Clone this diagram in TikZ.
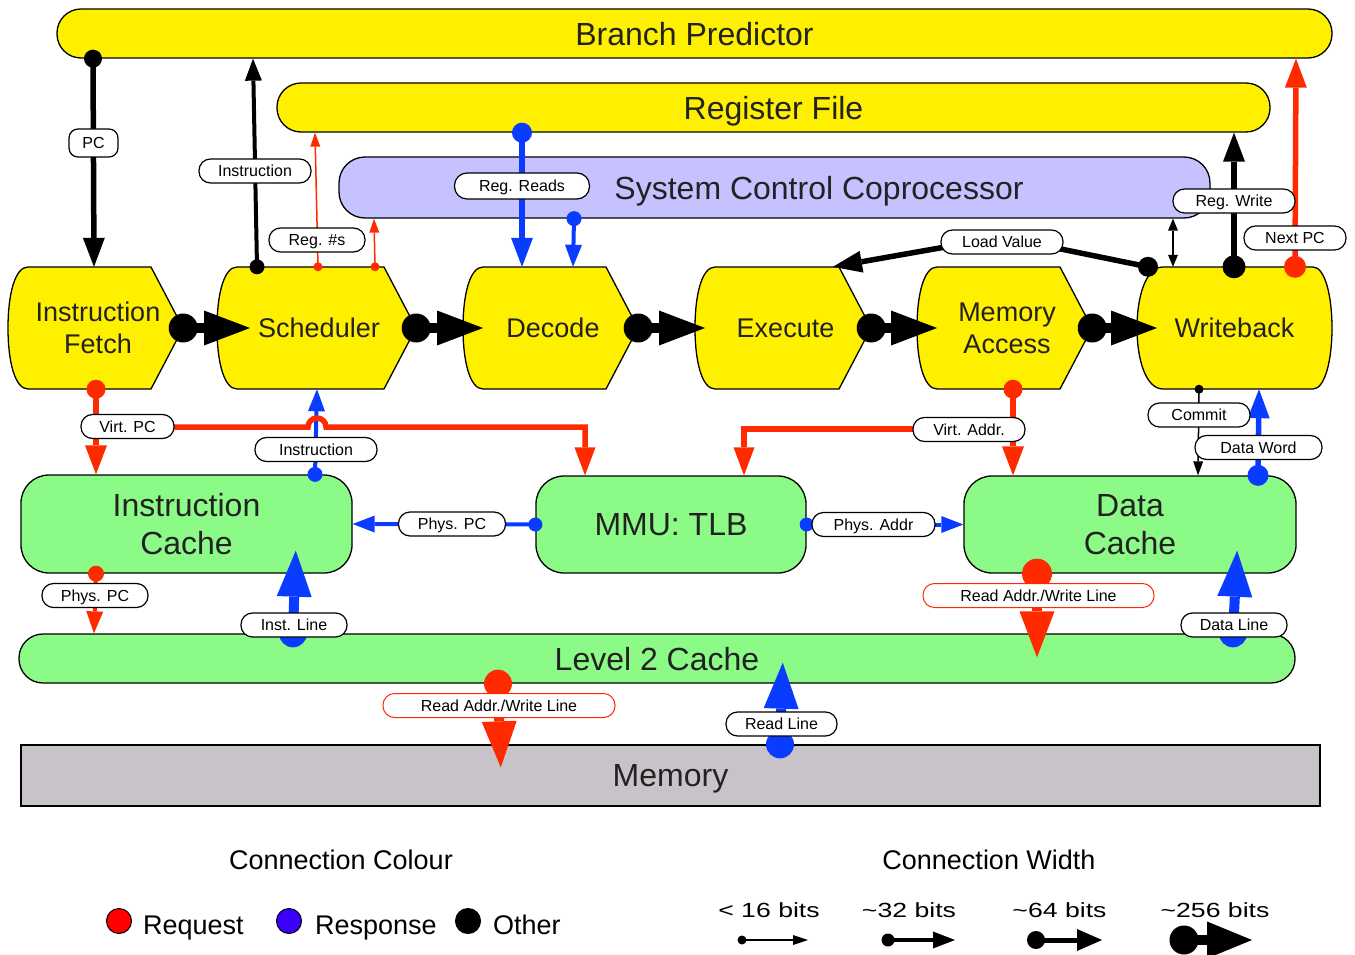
\documentclass[tikz,border=0pt]{standalone}
\usepackage{fontspec}
\setmainfont{Liberation Sans}
\usepackage{graphicx}
\usetikzlibrary{arrows.meta}
\definecolor{ylw}{RGB}{255,240,0}
\definecolor{grn}{RGB}{140,250,135}
\definecolor{lav}{RGB}{197,194,255}
\definecolor{memg}{RGB}{200,195,200}
\definecolor{req}{RGB}{255,42,0}
\definecolor{resp}{RGB}{10,60,255}
\definecolor{txt}{RGB}{34,34,34}
\definecolor{legred}{RGB}{255,0,0}
\definecolor{legblue}{RGB}{60,0,255}
\newcommand\ystage[4]{%
  \filldraw[stageshape] ({#2+20},267) -- ({#3-32},267) -- (#3,328) -- ({#3-32},389) -- ({#2+20},389)
    .. controls ({#2+7},389) and (#2,362) .. (#2,328)
    .. controls (#2,294) and ({#2+7},267) .. cycle;
  \node[stgtxt, minimum width={(#3-#2)*1pt}, minimum height=122pt] (#1) at ({(#2+#3)/2},328) {};
  \node[stgtxt] (#1t) at ({(#2+#3)/2+2.5},328) {#4};
}
\begin{document}
\begin{tikzpicture}[x=1pt,y=-1pt,
  box/.style={draw=black, line width=1.3pt, inner sep=0pt, text=txt, font=\fontsize{32}{38}\selectfont, align=center},
  one/.style={text depth=0pt},
  stageshape/.style={draw=black, line width=1.3pt, fill=ylw},
  stgtxt/.style={inner sep=0pt, text=txt, font=\fontsize{27}{32}\selectfont, align=center},
  lbl/.style={draw=black, line width=1.2pt, fill=white, rounded corners=11.5pt, inner sep=0pt, minimum height=24pt, text depth=0pt, font=\fontsize{16}{18}\selectfont},
  lblr/.style={lbl, draw=req, line width=1pt},
  c16/.style={line width=1.5pt, -{Triangle[length=14pt,width=10pt,line width=0pt]}},
  c32/.style={line width=4pt, -{Triangle[length=22pt,width=17pt,line width=0pt]}},
  c64/.style={line width=5.5pt, -{Triangle[length=29pt,width=22pt,line width=0pt]}},
  c256/.style={line width=10pt, -{Triangle[length=46pt,width=35pt,line width=0pt]}},
  thinln/.style={line width=5.5pt, -{Triangle[length=28pt,width=21pt,line width=0pt]}},
  legtxt/.style={inner sep=0pt, font=\fontsize{27}{32}\selectfont},
  wtxt/.style={inner sep=0pt, anchor=base},
  legdot/.style={circle, draw=black, line width=1pt, minimum size=25pt, inner sep=0pt},
]
\useasboundingbox (0,0) rectangle (1355,955);
\fill[white] (0,0) rectangle (1355,955);

% ---------- blocks ----------
\node[box, one, fill=ylw, rounded corners=24pt, minimum width=1275pt, minimum height=49pt] (BP) at (694.5,33.5) {Branch Predictor};
\node[box, one, fill=ylw, rounded corners=24pt, minimum width=993pt, minimum height=49pt] (RF) at (773.5,107.5) {Register File};
\node[box, fill=lav, rounded corners=26pt, minimum width=871pt, minimum height=61pt] (SCC) at (774.5,187.5) {};
\node[inner sep=0pt, one, text=txt, font=\fontsize{32}{38}\selectfont] (SCCt) at (819,187.5) {System Control Coprocessor};

\ystage{IF}{8}{183}{Instruction\\Fetch}
\ystage{SCH}{217}{416}{Scheduler}
\ystage{DEC}{463}{638}{Decode}
\ystage{EXE}{695}{871}{Execute}
\ystage{MA}{917}{1092}{Memory\\Access}
\filldraw[stageshape] (1163,267) -- (1313,267) .. controls (1325,267) and (1332,296) .. (1332,328)
  .. controls (1332,360) and (1325,389) .. (1313,389) -- (1163,389)
  .. controls (1146,389) and (1137,360) .. (1137,328) .. controls (1137,296) and (1146,267) .. cycle;
\node[stgtxt, minimum width=195pt, minimum height=122pt] (WB) at (1234.5,328) {Writeback};

\node[box, fill=grn, rounded corners=28pt, minimum width=331pt, minimum height=98pt] (IC) at (186.5,524) {Instruction\\Cache};
\node[box, one, fill=grn, rounded corners=28pt, minimum width=270pt, minimum height=97pt] (MMU) at (671,524.5) {MMU: TLB};
\node[box, fill=grn, rounded corners=28pt, minimum width=332pt, minimum height=97pt] (DC) at (1130,524.5) {Data\\Cache};
\node[box, one, fill=grn, rounded corners=24pt, minimum width=1276pt, minimum height=49pt] (L2) at (657,658.5) {Level 2 Cache};
\node[box, one, fill=memg, minimum width=1299pt, minimum height=61pt] (MEM) at (670.5,775.5) {Memory};

% ---------- pipeline chain ----------
\foreach \a/\b/\tip in {IF/SCH/250, SCH/DEC/483, DEC/EXE/705, EXE/MA/937, MA/WB/1157} {
  \draw[c256] (\a.east) -- (\tip,0 |- \b.west);
  \fill (\a.east) circle (14.5);
}

% ---------- top connectors ----------
\draw[c64] (93,0 |- BP.south) -- (94,0 |- IF.north);
\fill (93,0 |- BP.south) circle (9);
\draw[c32] (257,0 |- SCH.north) -- (253,0 |- BP.south);
\fill (257,0 |- SCH.north) circle (7.5);
\draw[c16, req] (318,0 |- SCH.north) -- (315,0 |- RF.south);
\fill[req] (318,0 |- SCH.north) circle (4.5);
\draw[c16, req] (375,0 |- SCH.north) -- (374,0 |- SCC.south);
\fill[req] (375,0 |- SCH.north) circle (4.5);
\draw[c64, resp] (522,0 |- RF.south) -- (522,0 |- DEC.north);
\fill[resp] (522,0 |- RF.south) circle (10);
\draw[c32, resp] (574,0 |- SCC.south) -- (573,0 |- DEC.north);
\fill[resp] (574,0 |- SCC.south) circle (7.5);
\coordinate (lvb) at (1002,237);
\draw[c64] (1148,0 |- WB.north) -- (lvb) -- (833,0 |- EXE.north);
\fill (1148,0 |- WB.north) circle (10);
\draw[line width=2pt, {Triangle[length=12pt,width=10pt,line width=0pt]}-{Triangle[length=12pt,width=10pt,line width=0pt]}] (1173,0 |- SCC.south) -- (1173,0 |- WB.north);
\draw[c64] (1234,0 |- WB.north) -- (1234,0 |- RF.south);
\fill (1234,0 |- WB.north) circle (11.5);
\draw[c64, req] (1295,0 |- WB.north) -- (1296,0 |- BP.south);
\fill[req] (1295,0 |- WB.north) circle (11);

% ---------- middle connectors ----------
\draw[c32, resp] (315,0 |- IC.north) -- (317,0 |- SCH.south);
\fill[resp] (315,0 |- IC.north) circle (7.5);
\coordinate (vpc) at (96,427);
\draw[thinln, req] (vpc) -- (308,427) arc[start angle=180, end angle=360, radius=9] -- (585,427) -- (585,0 |- MMU.north);
\draw[c64, req] (96,0 |- IF.south) -- (96,0 |- IC.north);
\fill[req] (96,0 |- IF.south) circle (9.5);
\coordinate (vad) at (1013,429);
\draw[thinln, req] (vad) -- (744,429) -- (744,0 |- MMU.north);
\draw[c64, req] (1013,0 |- MA.south) -- (1013,0 |- DC.north);
\fill[req] (1013,0 |- MA.south) circle (9.5);
\draw[c16] (1199,0 |- WB.south) -- (1198,0 |- DC.north);
\fill (1199,0 |- WB.south) circle (4.5);
\draw[c64, resp] (1258,0 |- DC.north) -- (1259,0 |- WB.south);
\fill[resp] (1258,0 |- DC.north) circle (10.5);
\draw[c32, resp] (MMU.west) -- (IC.east);
\fill[resp] (MMU.west) circle (7);
\draw[c32, resp] (MMU.east) -- (DC.west);
\fill[resp] (MMU.east) circle (7);

% ---------- lower connectors ----------
\draw[c32, req] (96,0 |- IC.south) -- (94,0 |- L2.north);
\fill[req] (96,0 |- IC.south) circle (8);
\draw[c256, resp, shorten >=-23pt] (293,0 |- L2.north) -- (295,0 |- IC.south);
\fill[resp] (293,0 |- L2.north) circle (14);
\draw[c256, req, shorten >=-24pt] (1037,0 |- DC.south) -- (1037,0 |- L2.north);
\fill[req] (1037,0 |- DC.south) circle (15);
\draw[c256, resp, shorten >=-23pt] (1233,0 |- L2.north) -- (1236,0 |- DC.south);
\fill[resp] (1233,0 |- L2.north) circle (14);
\draw[c256, req, shorten >=-23pt] (498,0 |- L2.south) -- (500,0 |- MEM.north);
\fill[req] (498,0 |- L2.south) circle (14);
\draw[c256, resp, shorten >=-21pt] (780,0 |- MEM.north) -- (782,0 |- L2.south);
\fill[resp] (780,0 |- MEM.north) circle (14);

% ---------- labels ----------
\node[lbl, rounded corners=9pt, minimum width=49pt, minimum height=28pt] (lPC) at (93.5,143) {PC};
\node[lbl, minimum width=112pt] (lInsA) at (255,171) {Instruction};
\node[lbl, minimum width=96pt] (lRegs) at (317,240) {Reg. \#s};
\node[lbl, minimum width=135pt, minimum height=26pt, rounded corners=12.5pt] (lRR) at (522,186) {Reg. Reads};
\node[lbl, minimum width=122pt] (lLV) at (1002,242) {Load Value};
\node[lbl, minimum width=122pt] (lRW) at (1234,201) {Reg. Write};
\node[lbl, minimum width=102pt] (lNPC) at (1295,238) {Next PC};
\node[lbl, minimum width=93pt] (lVPC) at (127.5,426.5) {Virt. PC};
\node[lbl, minimum width=122pt] (lInsB) at (316,449.5) {Instruction};
\node[lbl, minimum width=112pt] (lVA) at (969,429.5) {Virt. Addr.};
\node[lbl, minimum width=102pt] (lCom) at (1199,415) {Commit};
\node[lbl, minimum width=127pt] (lDW) at (1258.5,447.5) {Data Word};
\node[lbl, minimum width=107pt] (lPPCa) at (452,524) {Phys. PC};
\node[lbl, minimum width=123pt] (lPA) at (873.5,524.5) {Phys. Addr};
\node[lbl, minimum width=106pt] (lPPCb) at (95,595.5) {Phys. PC};
\node[lbl, minimum width=106pt] (lIL) at (294,625) {Inst. Line};
\node[lblr, minimum width=231pt] (lRAa) at (1038.5,595.5) {Read Addr./Write Line};
\node[lbl, minimum width=106pt] (lDL) at (1234,625) {Data Line};
\node[lblr, minimum width=232pt] (lRAb) at (499,705.5) {Read Addr./Write Line};
\node[lbl, minimum width=111pt] (lRL) at (781.5,724) {Read Line};

% ---------- legend ----------
\node[legtxt] (lcc) at (341,860) {Connection Colour};
\node[legtxt] (lcw) at (989,860) {Connection Width};
\node[legdot, fill=legred] (dreq) at (119,921) {};
\node[legtxt, anchor=base west] (treq) at (143,934) {Request};
\node[legdot, fill=legblue] (dresp) at (289,921) {};
\node[legtxt, anchor=base west] (tresp) at (315,934) {Response};
\node[legdot, fill=black] (doth) at (468,921) {};
\node[legtxt, anchor=base west] (toth) at (493,934) {Other};

\node[wtxt] (w16) at (769,917) {\scalebox{1.3}[1]{\fontsize{20.5}{24}\selectfont < 16 bits}};
\node[wtxt] (w32) at (909,917) {\scalebox{1.3}[1]{\fontsize{20.5}{24}\selectfont \textasciitilde32 bits}};
\node[wtxt] (w64) at (1059.5,917) {\scalebox{1.3}[1]{\fontsize{20.5}{24}\selectfont \textasciitilde64 bits}};
\node[wtxt] (w256) at (1215,917) {\scalebox{1.3}[1]{\fontsize{20.5}{24}\selectfont \textasciitilde256 bits}};

\coordinate (a16) at (742,940);  \coordinate (b16) at (808,940);
\coordinate (a32) at (888,940);  \coordinate (b32) at (955,940);
\coordinate (a64) at (1036,940); \coordinate (b64) at (1102,940);
\coordinate (a256) at (1184,940); \coordinate (b256) at (1252,940);
\draw[line width=1.5pt, -{Triangle[length=15pt,width=10pt,line width=0pt]}] (a16) -- (b16);
\fill (a16) circle (4.5);
\draw[line width=4pt, -{Triangle[length=22pt,width=17pt,line width=0pt]}] (a32) -- (b32);
\fill (a32) circle (6.5);
\draw[line width=5pt, -{Triangle[length=25pt,width=22pt,line width=0pt]}] (a64) -- (b64);
\fill (a64) circle (9);
\draw[line width=10pt, -{Triangle[length=45pt,width=37pt,line width=0pt]}] (a256) -- (b256);
\fill (a256) circle (14.5);
\end{tikzpicture}
\end{document}
